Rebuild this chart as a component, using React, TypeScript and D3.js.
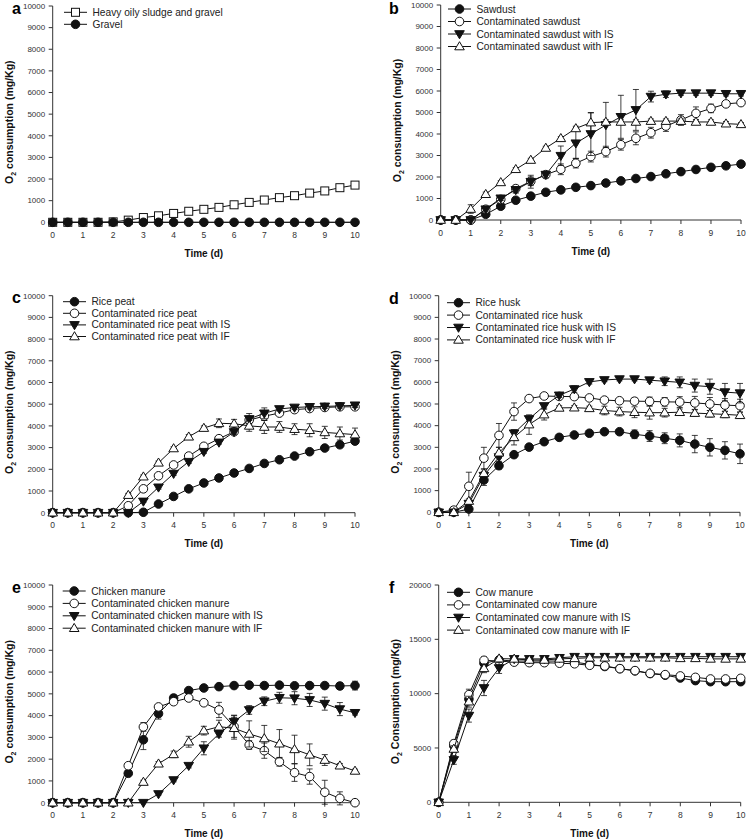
import React from "react";
import * as d3 from "d3";

// ---------- data ----------
const times = [0, 0.5, 1, 1.5, 2, 2.5, 3, 3.5, 4, 4.5, 5, 5.5, 6, 6.5, 7, 7.5, 8, 8.5, 9, 9.5, 10];
const xTicks = [0, 1, 2, 3, 4, 5, 6, 7, 8, 9, 10];
const yTicks10k = [0, 1000, 2000, 3000, 4000, 5000, 6000, 7000, 8000, 9000, 10000];
const yTicks20k = [0, 5000, 10000, 15000, 20000];

// panel a
const aHeavySludge = [0, 0, 0, 0, 20, 100, 220, 300, 410, 510, 600, 690, 810, 920, 1030, 1140, 1230, 1350, 1450, 1600, 1720];
const aGravel = [0, 0, 0, 0, 0, 0, 0, 0, 0, 0, 0, 0, 0, 0, 0, 0, 0, 0, 0, 0, 0];

// panel b
const bSawdust = [0, 0, 0, 265, 640, 920, 1110, 1290, 1400, 1520, 1600, 1720, 1820, 1930, 2020, 2150, 2250, 2350, 2450, 2520, 2600];
const bSawdustErr = [0, 0, 0, 60, 60, 60, 60, 60, 60, 60, 60, 60, 60, 60, 60, 60, 60, 60, 60, 60, 60];
const bCont = [0, 0, 0, 500, 960, 1460, 1800, 2110, 2360, 2640, 2950, 3180, 3500, 3800, 4060, 4370, 4650, 4960, 5190, 5400, 5460];
const bContErr = [0, 0, 0, 80, 100, 150, 200, 120, 250, 220, 250, 250, 250, 300, 250, 250, 250, 300, 200, 120, 100];
const bContIS = [0, 0, 0, 500, 1010, 1400, 1780, 2110, 2990, 3570, 4000, 4420, 4800, 5120, 5740, 5850, 5900, 5900, 5900, 5870, 5870];
const bContISErr = [0, 0, 0, 80, 100, 150, 300, 150, 450, 700, 1000, 1050, 1000, 950, 250, 150, 100, 100, 100, 100, 100];
const bContIF = [0, 0, 510, 1200, 1750, 2360, 2790, 3350, 3800, 4260, 4530, 4560, 4560, 4560, 4600, 4600, 4600, 4560, 4560, 4480, 4450];
const bContIFErr = [0, 0, 200, 100, 80, 80, 80, 80, 80, 100, 450, 100, 100, 100, 100, 100, 100, 100, 100, 100, 80];

// panel c
const cRicePeat = [0, 0, 0, 0, 0, 0, 20, 400, 750, 1100, 1370, 1600, 1830, 2040, 2270, 2440, 2610, 2810, 2980, 3130, 3300];
const cRicePeatErr = [0, 0, 0, 0, 0, 0, 0, 50, 50, 50, 50, 50, 50, 50, 50, 50, 50, 50, 50, 50, 100];
const cCont = [0, 0, 0, 0, 0, 320, 1100, 1700, 2200, 2610, 3060, 3410, 3730, 4270, 4450, 4590, 4750, 4800, 4850, 4880, 4880];
const cContErr = [0, 0, 0, 0, 0, 50, 80, 80, 80, 80, 80, 80, 100, 150, 200, 100, 100, 100, 100, 100, 100];
const cContIS = [0, 0, 0, 0, 0, 0, 520, 1170, 1800, 2350, 2810, 3240, 3720, 4320, 4580, 4780, 4850, 4880, 4900, 4920, 4950];
const cContISErr = [0, 0, 0, 0, 0, 0, 50, 80, 80, 80, 80, 80, 100, 250, 250, 100, 100, 100, 100, 100, 100];
const cContIF = [0, 0, 0, 0, 0, 810, 1660, 2300, 2960, 3500, 3900, 4120, 4100, 4000, 3950, 3950, 3850, 3800, 3700, 3650, 3600];
const cContIFErr = [0, 0, 0, 0, 0, 80, 80, 80, 80, 100, 100, 200, 200, 250, 300, 250, 250, 300, 280, 300, 300];

// panel d
const dRiceHusk = [0, 0, 150, 1490, 2150, 2660, 3010, 3260, 3460, 3570, 3650, 3720, 3720, 3600, 3520, 3420, 3320, 3150, 3000, 2860, 2700];
const dRiceHuskErr = [0, 0, 80, 250, 150, 100, 80, 80, 80, 80, 80, 80, 100, 200, 250, 250, 300, 400, 400, 400, 450];
const dCont = [0, 100, 1200, 2500, 3550, 4650, 5250, 5370, 5350, 5340, 5280, 5180, 5150, 5130, 5120, 5100, 5090, 5050, 5000, 4950, 4920];
const dContErr = [0, 150, 650, 500, 550, 400, 100, 80, 80, 100, 100, 100, 100, 150, 200, 200, 250, 300, 300, 300, 300];
const dContIS = [0, 0, 400, 1690, 2550, 3650, 4310, 4910, 5400, 5690, 6020, 6110, 6150, 6150, 6100, 6050, 6000, 5850, 5800, 5550, 5500];
const dContISErr = [0, 0, 100, 200, 200, 150, 100, 100, 100, 150, 100, 80, 80, 80, 100, 200, 250, 300, 350, 400, 450];
const dContIF = [0, 0, 520, 1800, 2750, 3460, 4050, 4510, 4820, 4830, 4800, 4700, 4650, 4620, 4600, 4600, 4620, 4580, 4550, 4520, 4480];
const dContIFErr = [0, 0, 100, 200, 250, 350, 450, 250, 100, 100, 100, 200, 200, 250, 300, 200, 150, 150, 150, 150, 150];

// panel e
const eChicken = [0, 0, 0, 0, 0, 1350, 2890, 4090, 4810, 5150, 5270, 5330, 5380, 5400, 5380, 5400, 5370, 5380, 5380, 5360, 5380];
const eChickenErr = [0, 0, 0, 0, 0, 100, 450, 250, 150, 80, 80, 80, 80, 80, 80, 80, 80, 80, 80, 150, 200];
const eCont = [0, 0, 0, 0, 0, 1700, 3480, 4400, 4640, 4810, 4590, 4260, 3500, 2650, 2390, 1880, 1380, 1200, 480, 200, 0];
const eContErr = [0, 0, 0, 0, 0, 100, 200, 100, 100, 100, 100, 350, 500, 200, 350, 200, 400, 350, 550, 300, 50];
const eContIS = [0, 0, 0, 0, 0, 0, 0, 400, 1040, 1700, 2500, 3160, 3720, 4260, 4660, 4820, 4800, 4720, 4550, 4300, 4130];
const eContISErr = [0, 0, 0, 0, 0, 0, 0, 50, 80, 100, 300, 150, 300, 200, 200, 250, 300, 300, 300, 300, 100];
const eContIF = [0, 0, 0, 0, 0, 0, 950, 1790, 2220, 2800, 3310, 3490, 3420, 3160, 2950, 2710, 2450, 2200, 1960, 1700, 1460];
const eContIFErr = [0, 0, 0, 0, 0, 0, 80, 100, 150, 250, 200, 300, 500, 600, 600, 650, 650, 500, 250, 100, 80];

// panel f
const fCow = [0, 5210, 9500, 12800, 13100, 13000, 13000, 13000, 13000, 12900, 12700, 12500, 12300, 12100, 11850, 11700, 11440, 11200, 11100, 11100, 11100];
const fCowErr = [0, 300, 500, 300, 200, 150, 150, 150, 150, 150, 150, 150, 150, 150, 150, 150, 150, 150, 150, 150, 150];
const fCont = [0, 5400, 9910, 13070, 13000, 12900, 12850, 12850, 12800, 12750, 12610, 12550, 12300, 12120, 11870, 11750, 11630, 11500, 11350, 11350, 11410];
const fContErr = [0, 300, 500, 300, 200, 150, 150, 150, 150, 150, 150, 150, 150, 150, 150, 150, 150, 150, 150, 150, 150];
const fContIS = [0, 3900, 7980, 10520, 12360, 13200, 13200, 13200, 13300, 13400, 13400, 13400, 13400, 13400, 13400, 13400, 13400, 13400, 13400, 13400, 13400];
const fContISErr = [0, 400, 600, 700, 500, 200, 150, 150, 150, 150, 150, 150, 150, 150, 150, 150, 150, 150, 150, 150, 150];
const fContIF = [0, 4910, 9260, 12330, 13220, 13200, 13100, 13100, 13200, 13250, 13300, 13300, 13300, 13300, 13300, 13300, 13250, 13250, 13200, 13200, 13200];
const fContIFErr = [0, 300, 500, 400, 200, 150, 150, 150, 150, 150, 150, 150, 150, 150, 150, 150, 150, 150, 150, 150, 150];

// ---------- layout ----------
type Marker = "sqOpen" | "cirFill" | "cirOpen" | "triDownFill" | "triUpOpen";
interface Series { name: string; values: number[]; err?: number[]; marker: Marker; }
interface Panel {
  letter: string; lx: number; ly: number;
  x0: number; x1: number; yTop: number; yBot: number; yMax: number; yTicks: number[];
  legX: number; legY: number; legDy: number;
  ylabel: string;
  series: Series[];
}

const panels: Panel[] = [
  {
    letter: "a", lx: 12, ly: 14, x0: 52.7, x1: 355, yTop: 6, yBot: 222.3, yMax: 10000, yTicks: yTicks10k,
    legX: 64, legY: 12.3, legDy: 12, ylabel: "consumption",
    series: [
      { name: "Heavy oily sludge and gravel", values: aHeavySludge, marker: "sqOpen" },
      { name: "Gravel", values: aGravel, marker: "cirFill" },
    ],
  },
  {
    letter: "b", lx: 389, ly: 14, x0: 440.7, x1: 741, yTop: 5, yBot: 220, yMax: 10000, yTicks: yTicks10k,
    legX: 448, legY: 9, legDy: 12.5, ylabel: "consumption",
    series: [
      { name: "Sawdust", values: bSawdust, err: bSawdustErr, marker: "cirFill" },
      { name: "Contaminated sawdust", values: bCont, err: bContErr, marker: "cirOpen" },
      { name: "Contaminated sawdust with IS", values: bContIS, err: bContISErr, marker: "triDownFill" },
      { name: "Contaminated sawdust with IF", values: bContIF, err: bContIFErr, marker: "triUpOpen" },
    ],
  },
  {
    letter: "c", lx: 12, ly: 303, x0: 52.7, x1: 355, yTop: 295.7, yBot: 512.7, yMax: 10000, yTicks: yTicks10k,
    legX: 63, legY: 301.7, legDy: 11.6, ylabel: "consumption",
    series: [
      { name: "Rice peat", values: cRicePeat, err: cRicePeatErr, marker: "cirFill" },
      { name: "Contaminated rice peat", values: cCont, err: cContErr, marker: "cirOpen" },
      { name: "Contaminated rice peat with IS", values: cContIS, err: cContISErr, marker: "triDownFill" },
      { name: "Contaminated rice peat with IF", values: cContIF, err: cContIFErr, marker: "triUpOpen" },
    ],
  },
  {
    letter: "d", lx: 389, ly: 304, x0: 438.7, x1: 740, yTop: 295.7, yBot: 512.3, yMax: 10000, yTicks: yTicks10k,
    legX: 447, legY: 302.7, legDy: 12.4, ylabel: "consumption",
    series: [
      { name: "Rice husk", values: dRiceHusk, err: dRiceHuskErr, marker: "cirFill" },
      { name: "Contaminated rice husk", values: dCont, err: dContErr, marker: "cirOpen" },
      { name: "Contaminated rice husk with IS", values: dContIS, err: dContISErr, marker: "triDownFill" },
      { name: "Contaminated rice husk with IF", values: dContIF, err: dContIFErr, marker: "triUpOpen" },
    ],
  },
  {
    letter: "e", lx: 12, ly: 593, x0: 52.7, x1: 355, yTop: 585, yBot: 802.7, yMax: 10000, yTicks: yTicks10k,
    legX: 62.7, legY: 591, legDy: 12.4, ylabel: "consumption",
    series: [
      { name: "Chicken manure", values: eChicken, err: eChickenErr, marker: "cirFill" },
      { name: "Contaminated chicken manure", values: eCont, err: eContErr, marker: "cirOpen" },
      { name: "Contaminated chicken manure with IS", values: eContIS, err: eContISErr, marker: "triDownFill" },
      { name: "Contaminated chicken manure with IF", values: eContIF, err: eContIFErr, marker: "triUpOpen" },
    ],
  },
  {
    letter: "f", lx: 389, ly: 593, x0: 438.7, x1: 740.7, yTop: 585, yBot: 802.3, yMax: 20000, yTicks: yTicks20k,
    legX: 447, legY: 592.3, legDy: 12.6, ylabel: "Consumption",
    series: [
      { name: "Cow manure", values: fCow, err: fCowErr, marker: "cirFill" },
      { name: "Contaminated cow manure", values: fCont, err: fContErr, marker: "cirOpen" },
      { name: "Contaminated cow manure with IS", values: fContIS, err: fContISErr, marker: "triDownFill" },
      { name: "Contaminated cow manure with IF", values: fContIF, err: fContIFErr, marker: "triUpOpen" },
    ],
  },
];

const FONT = "'Liberation Sans', Arial, Helvetica, sans-serif";
const INK = "#111";

function MarkerShape({ type, x, y }: { type: Marker; x: number; y: number }) {
  const sw = 1;
  switch (type) {
    case "sqOpen":
      return <rect x={x - 4} y={y - 4} width={8} height={8} fill="#fff" stroke={INK} strokeWidth={sw} />;
    case "cirFill":
      return <circle cx={x} cy={y} r={4.3} fill={INK} stroke={INK} strokeWidth={sw} />;
    case "cirOpen":
      return <circle cx={x} cy={y} r={4.3} fill="#fff" stroke={INK} strokeWidth={sw} />;
    case "triDownFill":
      return <path d={`M${x - 4.8},${y - 3.3}L${x + 4.8},${y - 3.3}L${x},${y + 4.8}Z`} fill={INK} stroke={INK} strokeWidth={sw} />;
    case "triUpOpen":
      return <path d={`M${x - 4.8},${y + 3.3}L${x + 4.8},${y + 3.3}L${x},${y - 4.8}Z`} fill="#fff" stroke={INK} strokeWidth={sw} />;
  }
}

function PanelView({ p }: { p: Panel }) {
  const x = d3.scaleLinear().domain([0, 10]).range([p.x0, p.x1]);
  const y = d3.scaleLinear().domain([0, p.yMax]).range([p.yBot, p.yTop]);
  const line = d3.line<number>().x((_, i) => x(times[i])).y((v) => y(v));
  const yMid = (p.yTop + p.yBot) / 2 + 8;
  const titleX = p.x0 - 39.5;
  return (
    <g>
      {/* panel letter */}
      <text x={p.lx} y={p.ly} fontFamily={FONT} fontWeight="bold" fontSize={16} fill="#000">{p.letter}</text>
      {/* y axis */}
      <line x1={p.x0} x2={p.x0} y1={p.yTop} y2={p.yBot} stroke="#333" strokeWidth={1} />
      {p.yTicks.map((t) => (
        <g key={"y" + t}>
          <line x1={p.x0 - 4} x2={p.x0} y1={y(t)} y2={y(t)} stroke="#333" strokeWidth={1} />
          <text x={p.x0 - 7.5} y={y(t)} dy="0.35em" textAnchor="end" fontFamily={FONT} fontSize={8} fill="#333">{t}</text>
        </g>
      ))}
      {/* x axis */}
      <line x1={p.x0} x2={p.x1} y1={p.yBot} y2={p.yBot} stroke="#333" strokeWidth={1} />
      {xTicks.map((t) => (
        <g key={"x" + t}>
          <line x1={x(t)} x2={x(t)} y1={p.yBot} y2={p.yBot + 4} stroke="#333" strokeWidth={1} />
          <text x={x(t)} y={p.yBot + 15.5} textAnchor="middle" fontFamily={FONT} fontSize={8.5} fill="#333">{t}</text>
        </g>
      ))}
      <text x={(p.x0 + p.x1) / 2} y={p.yBot + 34.5} textAnchor="middle" fontFamily={FONT} fontWeight="bold" fontSize={10} fill="#111">Time (d)</text>
      <text transform={`translate(${titleX},${yMid}) rotate(-90)`} textAnchor="middle" fontFamily={FONT} fontWeight="bold" fontSize={10.5} fill="#111">
        O<tspan fontSize={7} dy={3}>2</tspan><tspan dy={-3}> {p.ylabel} (mg/Kg)</tspan>
      </text>
      {/* series */}
      {p.series.map((s, si) => (
        <g key={"s" + si}>
          {s.err && s.values.map((v, i) => {
            const e = s.err![i];
            if (!e) return null;
            const cx = x(times[i]);
            return (
              <g key={"e" + i} stroke={INK} strokeWidth={0.8}>
                <line x1={cx} x2={cx} y1={y(v + e)} y2={y(v - e)} />
                <line x1={cx - 3} x2={cx + 3} y1={y(v + e)} y2={y(v + e)} />
                <line x1={cx - 3} x2={cx + 3} y1={y(v - e)} y2={y(v - e)} />
              </g>
            );
          })}
          <path d={line(s.values) || ""} fill="none" stroke={INK} strokeWidth={1} />
          {s.values.map((v, i) => (
            <MarkerShape key={"m" + i} type={s.marker} x={x(times[i])} y={y(v)} />
          ))}
        </g>
      ))}
      {/* legend */}
      {p.series.map((s, si) => {
        const ly = p.legY + si * p.legDy;
        return (
          <g key={"l" + si}>
            <line x1={p.legX} x2={p.legX + 23} y1={ly} y2={ly} stroke={INK} strokeWidth={1} />
            <MarkerShape type={s.marker} x={p.legX + 11.5} y={ly} />
            <text x={p.legX + 28.5} y={ly} dy="0.35em" fontFamily={FONT} fontSize={10.2} fill="#222">{s.name}</text>
          </g>
        );
      })}
    </g>
  );
}

export default function App() {
  return (
    <svg width={746} height={840} style={{ position: "absolute", left: 0, top: 0, background: "#fff" }}>
      <rect width={746} height={840} fill="#fff" />
      {panels.map((p) => <PanelView key={p.letter} p={p} />)}
    </svg>
  );
}
